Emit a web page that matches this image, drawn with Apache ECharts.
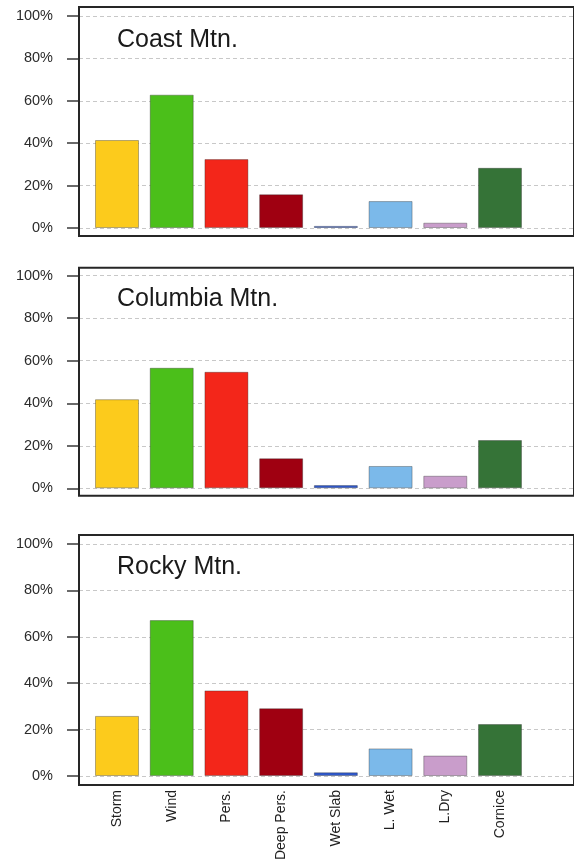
<!DOCTYPE html>
<html>
<head>
<meta charset="utf-8">
<title>Avalanche problem frequency by mountain range</title>
<script src="https://cdn.jsdelivr.net/npm/echarts@6/dist/echarts.min.js"></script>
<style>
  html, body { margin: 0; padding: 0; background: #ffffff; }
  #chart { width: 574px; height: 865px; }
</style>
</head>
<body>
<div id="chart"></div>
<script>
// Avalanche problem types (x categories)
const categories = ['Storm', 'Wind', 'Pers.', 'Deep Pers.', 'Wet Slab', 'L. Wet', 'L.Dry', 'Cornice'];
const barColors = ['#FCCB1C', '#4BBF1A', '#F3261A', '#9F0011', '#2F58CC', '#7BB9EA', '#C99DCB', '#357337'];

// Share of days each problem was reported (%)
const coastValues    = [41.5, 62.9, 32.5, 15.9, 1.0, 12.7, 2.5, 28.4];
const columbiaValues = [41.9, 56.7, 54.8, 14.1, 1.5, 10.5, 5.9, 22.7];
const rockyValues    = [25.9, 67.2, 36.9, 29.2, 1.6, 11.9, 8.8, 22.4];

const panelTitles = ['Coast Mtn.', 'Columbia Mtn.', 'Rocky Mtn.'];
const panelValues = [coastValues, columbiaValues, rockyValues];

// y scale: 0% .. 100% in steps of 20%
const yMin = 0, yMax = 100, yStep = 20;

// Panel geometry (pixels)
const frameLeft = 79;
const barsLeft = 89.65, barsWidth = 437.7;
const panelLayout = [
  { frameTop: 7,     frameBottom: 236,   plotTop: 16,    plotBottom: 228,   titleTop: 23 },
  { frameTop: 267.7, frameBottom: 495.7, plotTop: 275.7, plotBottom: 488.3, titleTop: 282 },
  { frameTop: 535,   frameBottom: 785,   plotTop: 544,   plotBottom: 776,   titleTop: 550 }
];

const fontFamily = '"Liberation Sans", Arial, Helvetica, sans-serif';

const grid = [], xAxis = [], yAxis = [], series = [], title = [];

panelLayout.forEach((p, i) => {
  const gFrame = grid.length;
  // outer frame box (its right side runs past the canvas edge)
  grid.push({ left: frameLeft, right: -80, top: p.frameTop, height: p.frameBottom - p.frameTop,
              show: true, borderColor: '#262626', borderWidth: 2, backgroundColor: 'transparent', z: 5 });
  xAxis.push({ type: 'value', gridIndex: gFrame, show: false, min: 0, max: 1 });
  yAxis.push({ type: 'value', gridIndex: gFrame, show: false, min: 0, max: 1 });

  // value scale with ticks, labels and dashed guide lines
  const gScale = grid.length;
  grid.push({ left: frameLeft, right: -80, top: p.plotTop, height: p.plotBottom - p.plotTop });
  xAxis.push({ type: 'value', gridIndex: gScale, show: false, min: 0, max: 1 });
  yAxis.push({
    type: 'value', gridIndex: gScale, min: yMin, max: yMax, interval: yStep,
    axisLine: { show: false },
    axisTick: { show: true, length: 12, lineStyle: { color: '#3a3a3a', width: 1.5 } },
    axisLabel: { formatter: '{value}%', margin: 26, color: '#2b2b2b', fontSize: 14.5, fontFamily: fontFamily },
    splitLine: { show: true, lineStyle: { color: '#c8c8c8', width: 1, type: [4, 3] } }
  });

  // bars
  const gBars = grid.length;
  grid.push({ left: barsLeft, width: barsWidth, top: p.plotTop, height: p.plotBottom - p.plotTop });
  xAxis.push({
    type: 'category', gridIndex: gBars, data: categories,
    axisLine: { show: false }, axisTick: { show: false },
    axisLabel: { show: i === panelLayout.length - 1, rotate: 90, margin: 14, interval: 0,
                 color: '#1e1e1e', fontSize: 14, fontFamily: fontFamily }
  });
  yAxis.push({ type: 'value', gridIndex: gBars, show: false, min: yMin, max: yMax });

  series.push({
    type: 'bar', xAxisIndex: gBars, yAxisIndex: gBars, barWidth: 44, z: 3,
    data: panelValues[i].map((v, k) => ({
      value: v,
      itemStyle: { color: barColors[k], borderColor: 'rgba(40,40,40,0.35)', borderWidth: 1 }
    }))
  });

  title.push({
    text: panelTitles[i], left: 112, top: p.titleTop,
    textStyle: { fontSize: 25, fontWeight: 'normal', color: '#1a1a1a', fontFamily: fontFamily }
  });
});

const chart = echarts.init(document.getElementById('chart'), null, { renderer: 'canvas' });
chart.setOption({
  backgroundColor: '#ffffff',
  animation: false,
  title: title,
  grid: grid,
  xAxis: xAxis,
  yAxis: yAxis,
  series: series
});
</script>
</body>
</html>
